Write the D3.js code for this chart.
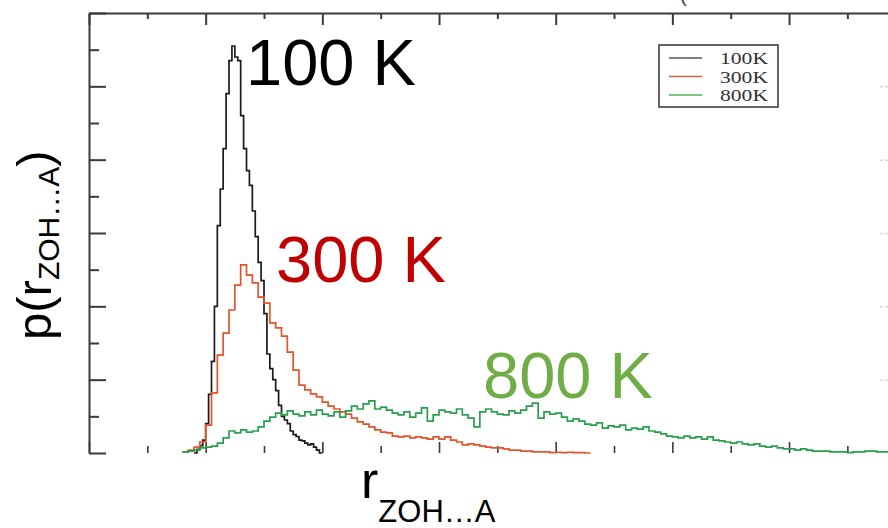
<!DOCTYPE html>
<html>
<head>
<meta charset="utf-8">
<script src="https://cdn.jsdelivr.net/npm/d3@7"></script>
<style>
  html, body { margin: 0; padding: 0; background: #fff; }
  svg { display: block; }
</style>
</head>
<body>
<svg id="chart" width="888" height="528"></svg>
<script>
// ---------------- data ----------------
const seriesNames = ["100K", "300K", "800K"];
const curveLabels = ["100 K", "300 K", "800 K"];

const xDomain = [1.5, 5.0];   // r (arbitrary units, unlabeled axis)
const yDomain = [0, 1.2];     // p(r) (unlabeled axis)
const xTickStep = 0.25;
const yTickStep = 0.1;

const binStart100 = 1.95, binWidth100 = 0.0125;
const values100 = [0.00,0.01,0.02,0.035,0.08,0.16,0.25,0.40,0.62,0.72,0.83,0.98,1.07,1.11,1.08,1.07,0.92,0.83,0.77,0.73,
  0.66,0.59,0.52,0.47,0.38,0.27,0.23,0.20,0.17,0.13,0.10,0.09,0.08,0.06,0.05,0.045,0.035,0.033,0.027,0.022,
  0.025,0.016,0.008,0.0];

const binStart300 = 1.9, binWidth300 = 0.025;
const values300 = [0.003,0.008,0.016,0.03,0.076,0.164,0.267,0.327,0.39,0.458,0.513,0.485,0.464,0.425,0.409,0.355,0.341,0.319,0.275,0.226,
  0.185,0.172,0.161,0.153,0.139,0.128,0.12,0.112,0.106,0.095,0.085,0.079,0.071,0.063,0.057,0.055,0.046,0.044,0.046,0.041,
  0.044,0.041,0.038,0.044,0.038,0.044,0.035,0.03,0.022,0.025,0.022,0.019,0.016,0.014,0.014,0.011,0.008,0.008,0.005,0.005,
  0.003,0.003,0.003,0.001,0.002,0.001,0.002,0.001,0.001,0.0];

const binStart800 = 1.9, binWidth800 = 0.025;
const values800 = [0.003,0.005,0.008,0.014,0.016,0.019,0.027,0.041,0.060,0.055,0.063,0.057,0.060,0.071,0.087,0.098,0.109,0.104,0.115,0.106,
  0.101,0.112,0.104,0.117,0.106,0.101,0.112,0.098,0.115,0.128,0.120,0.134,0.142,0.120,0.125,0.117,0.109,0.104,0.112,0.098,
  0.109,0.123,0.087,0.104,0.117,0.112,0.109,0.120,0.104,0.095,0.071,0.112,0.120,0.112,0.106,0.104,0.115,0.109,0.117,0.128,
  0.136,0.095,0.112,0.106,0.109,0.098,0.087,0.093,0.087,0.079,0.076,0.082,0.068,0.074,0.071,0.076,0.063,0.068,0.065,0.071,
  0.060,0.057,0.052,0.046,0.044,0.041,0.046,0.041,0.044,0.038,0.044,0.035,0.033,0.030,0.027,0.030,0.025,0.022,0.025,0.019,
  0.016,0.019,0.014,0.011,0.011,0.008,0.011,0.008,0.005,0.005,0.005,0.003,0.003,0.003,0.001,0.003,0.003,0.005,0.005,0.003,
  0.003,0.003];

const lineColors = ["#1a1a1a", "#e4532b", "#27a04e"];
const legendColors = ["#555555", "#c8643c", "#4caf5a"];
const labelColors = ["#000000", "#c00000", "#70ad47"];

// ---------------- layout ----------------
const svg = d3.select("#chart");
const plot = { left: 89, top: 13, bottom: 453, right: 905.7 };

const x = d3.scaleLinear().domain(xDomain).range([plot.left, plot.right]);
const y = d3.scaleLinear().domain(yDomain).range([plot.bottom, plot.top]);

const axisColor = "#3a3a3a";

svg.append("defs").append("clipPath").attr("id", "clip")
  .append("rect").attr("x", plot.left).attr("y", plot.top)
  .attr("width", 888 - plot.left).attr("height", plot.bottom - plot.top + 1);

// ---------------- axes (ticks only, unlabeled) ----------------
const xTicks = d3.range(xDomain[0], xDomain[1] + 1e-9, xTickStep);
const yTicks = d3.range(yDomain[0], yDomain[1] + 1e-9, yTickStep);
const isMajor = (v, i) => i % 2 === 0;

// top axis
const topAxis = d3.axisTop(x).tickValues(xTicks).tickFormat("").tickSizeOuter(0).tickSizeInner(0);
const gTop = svg.append("g").attr("transform", `translate(0,${plot.top})`).call(topAxis);
gTop.select(".domain").attr("stroke", axisColor).attr("stroke-width", 2);
gTop.selectAll(".tick line").remove();
gTop.selectAll(".tick").append("line")
  .attr("y1", 0).attr("y2", (d, i) => isMajor(d, i) ? 12 : 6)
  .attr("stroke", axisColor).attr("stroke-width", 2);

// bottom axis (ticks only)
const bottomAxis = d3.axisBottom(x).tickValues(xTicks).tickFormat("").tickSizeOuter(0).tickSizeInner(0);
const gBot = svg.append("g").attr("transform", `translate(0,${plot.bottom})`).call(bottomAxis);
gBot.select(".domain").remove();
gBot.selectAll(".tick line").remove();
gBot.selectAll(".tick").append("line")
  .attr("y1", 0).attr("y2", (d, i) => isMajor(d, i) ? -11 : -7)
  .attr("stroke", axisColor).attr("stroke-width", 1.6);

// left axis
const leftAxis = d3.axisLeft(y).tickValues(yTicks).tickFormat("").tickSizeOuter(0).tickSizeInner(0);
const gLeft = svg.append("g").attr("transform", `translate(${plot.left},0)`).call(leftAxis);
gLeft.select(".domain").attr("stroke", axisColor).attr("stroke-width", 2);
gLeft.selectAll(".tick line").remove();
gLeft.selectAll(".tick").append("line")
  .attr("x1", 0).attr("x2", (d, i) => isMajor(d, i) ? 17 : 10)
  .attr("stroke", axisColor).attr("stroke-width", 2);

// faint right-side ticks (frame edge cut off)
const rightAxis = d3.axisRight(y).tickValues(yTicks.filter((d, i) => i % 2 === 0 && i > 0 && i < yTicks.length - 1))
  .tickFormat("").tickSizeOuter(0).tickSizeInner(0);
const gRight = svg.append("g").attr("transform", `translate(888,0)`).call(rightAxis);
gRight.select(".domain").remove();
gRight.selectAll(".tick line").remove();
gRight.selectAll(".tick").append("line")
  .attr("x1", 0).attr("x2", -10)
  .attr("stroke", "#d8d8d8").attr("stroke-width", 1.5).attr("stroke-dasharray", "3,2");

// ---------------- curves ----------------
function stepPoints(start, width, vals) {
  const pts = vals.map((v, i) => [start + i * width, v]);
  pts.push([start + vals.length * width, vals[vals.length - 1]]);
  return pts;
}
const line = d3.line().x(d => x(d[0])).y(d => y(d[1])).curve(d3.curveStepAfter);

const seriesData = [
  stepPoints(binStart100, binWidth100, values100),
  stepPoints(binStart300, binWidth300, values300),
  stepPoints(binStart800, binWidth800, values800)
];

const gCurves = svg.append("g").attr("clip-path", "url(#clip)");
seriesData.forEach((pts, i) => {
  gCurves.append("path")
    .attr("d", line(pts))
    .attr("fill", "none")
    .attr("stroke", lineColors[i])
    .attr("stroke-width", 1.7)
    .attr("stroke-linejoin", "miter");
});

// ---------------- legend ----------------
const lg = svg.append("g");
lg.append("rect").attr("x", 659).attr("y", 45).attr("width", 119).attr("height", 62)
  .attr("fill", "#fff").attr("stroke", "#333").attr("stroke-width", 1.5);
const legendRowY = [58, 76.5, 95];
seriesNames.forEach((name, i) => {
  lg.append("line").attr("x1", 669).attr("x2", 702)
    .attr("y1", legendRowY[i]).attr("y2", legendRowY[i])
    .attr("stroke", legendColors[i]).attr("stroke-width", 1.5);
  lg.append("text").attr("x", 768).attr("y", legendRowY[i] + 6)
    .attr("text-anchor", "end")
    .attr("font-family", "'Liberation Serif', 'DejaVu Serif', serif")
    .attr("font-size", 17).attr("fill", "#333")
    .attr("textLength", 48).attr("lengthAdjust", "spacingAndGlyphs")
    .text(name);
});

// ---------------- curve labels ----------------
const labelPos = [[246, 85], [276, 282], [483, 398]];
curveLabels.forEach((t, i) => {
  svg.append("text")
    .attr("x", labelPos[i][0]).attr("y", labelPos[i][1])
    .attr("font-family", "'Liberation Sans', Arial, sans-serif")
    .attr("font-size", 65)
    .attr("fill", labelColors[i])
    .text(t);
});

// ---------------- axis titles ----------------
const sans = "'Liberation Sans', Arial, sans-serif";
const xt = svg.append("text").attr("x", 361).attr("y", 498)
  .attr("font-family", sans).attr("fill", "#000");
xt.append("tspan").attr("font-size", 52).text("r");
xt.append("tspan").attr("font-size", 31).attr("dy", 24).text("ZOH…A");

const yt = svg.append("text")
  .attr("transform", "translate(51,340) rotate(-90)")
  .attr("font-family", sans).attr("fill", "#000");
yt.append("tspan").attr("font-size", 49).text("p(r");
yt.append("tspan").attr("font-size", 30).attr("dy", 8).text("ZOH…A");
yt.append("tspan").attr("font-size", 49).attr("dy", -8).text(")");

// cut-off fragment of a title at the top edge
svg.append("text").attr("x", 680).attr("y", 2)
  .attr("font-family", sans).attr("font-size", 20).attr("fill", "#444").text("(");
</script>
</body>
</html>
